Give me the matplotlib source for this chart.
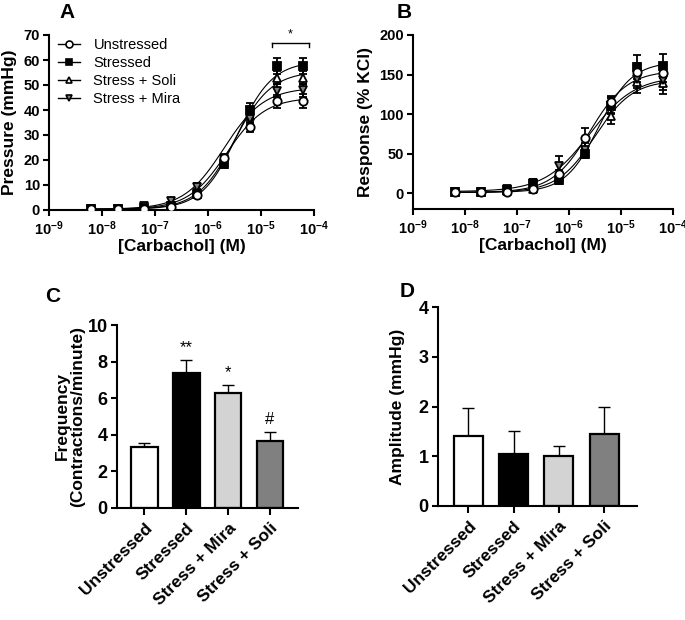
import numpy as np
import matplotlib
matplotlib.use('Agg')
import matplotlib.pyplot as plt
from matplotlib.ticker import NullLocator

plt.rcParams['font.family'] = ['Liberation Sans', 'DejaVu Sans']
plt.rcParams['mathtext.fontset'] = 'custom'
plt.rcParams['mathtext.default'] = 'regular'
plt.rcParams['mathtext.bf'] = 'Liberation Sans:bold'
plt.rcParams['mathtext.rm'] = 'Liberation Sans:bold'
plt.rcParams['mathtext.it'] = 'Liberation Sans:bold:italic'

# ---------------- data ----------------
log_conc = [-8.2, -7.7, -7.2, -6.7, -6.2, -5.7, -5.2, -4.7, -4.2]
decade_exps = [-9, -8, -7, -6, -5, -4]
curve_groups = ['Unstressed', 'Stressed', 'Stress + Soli', 'Stress + Mira']

# Panel A: pressure (mmHg)
a_unstressed = [0.3, 0.3, 0.4, 1.3, 6.0, 20.7, 33.0, 43.5, 43.5]
a_stressed = [0.3, 0.3, 0.6, 1.5, 6.2, 18.3, 40.0, 57.5, 57.5]
a_soli = [0.3, 0.3, 1.2, 2.2, 7.0, 20.0, 37.5, 53.0, 53.0]
a_mira = [0.3, 0.4, 1.6, 3.7, 9.3, 20.5, 36.5, 47.7, 47.8]
a_unstressed_sem = [0.4, 0.4, 0.5, 0.6, 1.0, 1.5, 1.8, 2.6, 2.8]
a_stressed_sem = [0.4, 0.4, 0.5, 0.7, 1.0, 1.5, 2.8, 3.3, 3.3]
a_soli_sem = [0.4, 0.4, 0.8, 0.8, 1.2, 1.5, 2.5, 2.5, 2.5]
a_mira_sem = [0.4, 0.4, 0.8, 1.2, 1.5, 1.5, 2.5, 2.5, 2.5]
# fitted curve parameters: bottom, top, logEC50, hill
a_fit_unstressed = [0.3, 45.0, -5.65, 1.2]
a_fit_stressed = [0.3, 59.5, -5.45, 1.3]
a_fit_soli = [0.3, 55.5, -5.5, 1.25]
a_fit_mira = [0.3, 49.0, -5.7, 1.15]
sig_y = 67
sig_label = '*'

# Panel B: response (% KCl)
b_unstressed = [1, 1, 1, 5, 23.7, 70, 115, 153, 152]
b_stressed = [1, 1, 4, 12, 17, 50, 110, 160, 161]
b_soli = [1, 1, 3, 5, 20, 52, 98, 140, 139]
b_mira = [1, 1, 5, 13, 35, 55, 112, 145, 143]
b_unstressed_sem = [1, 1, 2, 3, 5, 12, 8, 12, 12]
b_stressed_sem = [2, 2, 3, 6, 5, 6, 10, 15, 15]
b_soli_sem = [1, 1, 2, 3, 5, 6, 10, 13, 13]
b_mira_sem = [2, 2, 3, 5, 12, 8, 10, 12, 12]
b_fit_unstressed = [1, 155, -5.6, 1.2]
b_fit_stressed = [1, 166, -5.43, 1.35]
b_fit_soli = [1, 143, -5.5, 1.2]
b_fit_mira = [2, 148, -5.6, 1.0]

# Panels C, D: bars
bar_groups = ['Unstressed', 'Stressed', 'Stress + Mira', 'Stress + Soli']
freq_mean = [3.30, 7.39, 6.30, 3.65]
freq_sem = [0.24, 0.69, 0.43, 0.51]
freq_marks = ['', '**', '*', '#']
amp_mean = [1.41, 1.035, 1.00, 1.45]
amp_sem = [0.56, 0.475, 0.21, 0.55]

# ---------------- style ----------------
W, H = 685, 620
fig = plt.figure(figsize=(W / 100, H / 100), dpi=100)

def px_axes(l, t, r, b):
    return fig.add_axes([l / W, 1 - b / H, (r - l) / W, (b - t) / H])

SPW = 1.5
def style_axes(ax, tick_fs):
    for s in ['top', 'right']:
        ax.spines[s].set_visible(False)
    for s in ['left', 'bottom']:
        ax.spines[s].set_linewidth(SPW)
    ax.tick_params(width=SPW, length=4, labelsize=tick_fs, direction='out', pad=2.5)
    for lab in ax.get_xticklabels() + ax.get_yticklabels():
        lab.set_fontweight('bold')

curve_styles = {
    'Unstressed': dict(marker='o', mfc='white', ms=6, z=6),
    'Stressed': dict(marker='s', mfc='black', ms=5.5, z=5),
    'Stress + Soli': dict(marker='^', mfc='white', ms=6, z=4),
    'Stress + Mira': dict(marker='v', mfc='#7f7f7f', ms=6, z=4.5),
}

def logistic(x, p):
    b, t, e, h = p
    return b + (t - b) / (1 + 10 ** ((e - x) * h))

def dose_panel(ax, series, fits, sems):
    xs = 10 ** np.array(log_conc)
    xf = np.linspace(log_conc[0], log_conc[-1], 300)
    for g in curve_groups:
        st = curve_styles[g]
        ax.plot(10 ** xf, logistic(xf, fits[g]), color='black', lw=0.8, zorder=2)
        ax.errorbar(xs, series[g], yerr=sems[g], fmt='none', ecolor='black',
                    elinewidth=1.3, capsize=2.6, capthick=1.3, zorder=3)
        ax.plot(xs, series[g], linestyle='none', marker=st['marker'], mfc=st['mfc'],
                mec='black', mew=1.3, ms=st['ms'], zorder=st['z'])
    ax.set_xscale('log')
    ax.set_xlim(10.0 ** decade_exps[0], 10.0 ** decade_exps[-1])
    ax.set_xticks([10.0 ** e for e in decade_exps])
    ax.set_xticklabels([r'$10^{%d}$' % e for e in decade_exps])
    ax.xaxis.set_minor_locator(NullLocator())
    ax.set_xlabel('[Carbachol] (M)', fontsize=12.5, fontweight='bold')
    ax.xaxis.set_label_coords(0.5, -0.165)

# ---------------- Panel A ----------------
axA = px_axes(49, 35, 314, 210)
dose_panel(axA,
           {'Unstressed': a_unstressed, 'Stressed': a_stressed,
            'Stress + Soli': a_soli, 'Stress + Mira': a_mira},
           {'Unstressed': a_fit_unstressed, 'Stressed': a_fit_stressed,
            'Stress + Soli': a_fit_soli, 'Stress + Mira': a_fit_mira},
           {'Unstressed': a_unstressed_sem, 'Stressed': a_stressed_sem,
            'Stress + Soli': a_soli_sem, 'Stress + Mira': a_mira_sem})
axA.set_ylim(0, 70)
axA.set_yticks(np.arange(0, 71, 10))
axA.set_ylabel('Pressure (mmHg)', fontsize=12.5, fontweight='bold')
axA.yaxis.set_label_coords(-0.12, 0.5)
style_axes(axA, 10.5)
# significance bracket over the two highest concentrations
x1 = 10 ** log_conc[-2] / 1.25
x2 = 10 ** log_conc[-1] * 1.25
axA.plot([x1, x2], [sig_y, sig_y], color='black', lw=1.0, clip_on=False)
axA.plot([x1, x1], [sig_y, sig_y - 1.8], color='black', lw=1.0, clip_on=False)
axA.plot([x2, x2], [sig_y, sig_y - 1.8], color='black', lw=1.0, clip_on=False)
axA.text(np.sqrt(x1 * x2), sig_y + 0.8, sig_label, ha='center', va='bottom', fontsize=9)
# legend
handles = []
for g in curve_groups:
    st = curve_styles[g]
    h, = axA.plot([], [], color='black', lw=1.0, marker=st['marker'], mfc=st['mfc'],
                  mec='black', mew=1.2, ms=5)
    handles.append(h)
axA.legend(handles, curve_groups, loc='upper left', bbox_to_anchor=(0.03, 0.99),
           frameon=False, fontsize=10.5, handlelength=1.5, handletextpad=0.9,
           labelspacing=0.28, borderpad=0.1, borderaxespad=0)

# ---------------- Panel B ----------------
axB = px_axes(413, 35, 673, 209)
dose_panel(axB,
           {'Unstressed': b_unstressed, 'Stressed': b_stressed,
            'Stress + Soli': b_soli, 'Stress + Mira': b_mira},
           {'Unstressed': b_fit_unstressed, 'Stressed': b_fit_stressed,
            'Stress + Soli': b_fit_soli, 'Stress + Mira': b_fit_mira},
           {'Unstressed': b_unstressed_sem, 'Stressed': b_stressed_sem,
            'Stress + Soli': b_soli_sem, 'Stress + Mira': b_mira_sem})
axB.set_ylim(-20, 200)
axB.set_yticks(np.arange(0, 201, 50))
axB.set_ylabel('Response (% KCl)', fontsize=12.5, fontweight='bold')
axB.yaxis.set_label_coords(-0.154, 0.5)
style_axes(axB, 10.5)

# ---------------- bar panels ----------------
bar_colors = ['white', 'black', '#d3d3d3', '#808080']

def bar_panel(ax, means, sems, xlim):
    x = np.arange(len(bar_groups))
    ax.errorbar(x, means, yerr=[np.zeros(len(sems)), sems], fmt='none', ecolor='black',
                elinewidth=1.0, capsize=4.5, capthick=1.0, zorder=1)
    ax.bar(x, means, width=0.64, color=bar_colors, edgecolor='black', linewidth=1.6,
           zorder=2)
    ax.set_xlim(*xlim)
    ax.set_xticks(x)
    ax.set_xticklabels(bar_groups, rotation=45, ha='right', rotation_mode='anchor')
    style_axes(ax, 13)
    ax.tick_params(axis='x', length=5, pad=4, labelsize=12.5)
    return x

# Panel C
axC = px_axes(116.7, 325, 297.7, 507.7)
xc = bar_panel(axC, freq_mean, freq_sem, (-0.655, 3.66))
axC.set_ylim(0, 10)
axC.set_yticks(np.arange(0, 11, 2))
for i in range(len(bar_groups)):
    if freq_marks[i]:
        axC.text(xc[i], freq_mean[i] + freq_sem[i] + 0.25, freq_marks[i],
                 ha='center', va='bottom', fontsize=12)
axC.set_ylabel('Frequency\n(Contractions/minute)', fontsize=12.5, fontweight='bold',
               linespacing=1.05)
axC.yaxis.set_label_coords(-0.175, 0.5)

# Panel D
axD = px_axes(437.7, 307.3, 636.7, 505.7)
bar_panel(axD, amp_mean, amp_sem, (-0.675, 3.72))
axD.set_ylim(0, 4)
axD.set_yticks(np.arange(0, 5, 1))
axD.set_ylabel('Amplitude (mmHg)', fontsize=12.5, fontweight='bold')
axD.yaxis.set_label_coords(-0.164, 0.5)

# panel letters
for letter, (px, py) in zip('ABCD', [(59, 18), (397, 18), (45, 302), (400, 297)]):
    fig.text(px / W, 1 - py / H, letter, fontsize=15, fontweight='bold',
             ha='left', va='baseline')

fig.savefig('out.png', dpi=100)
